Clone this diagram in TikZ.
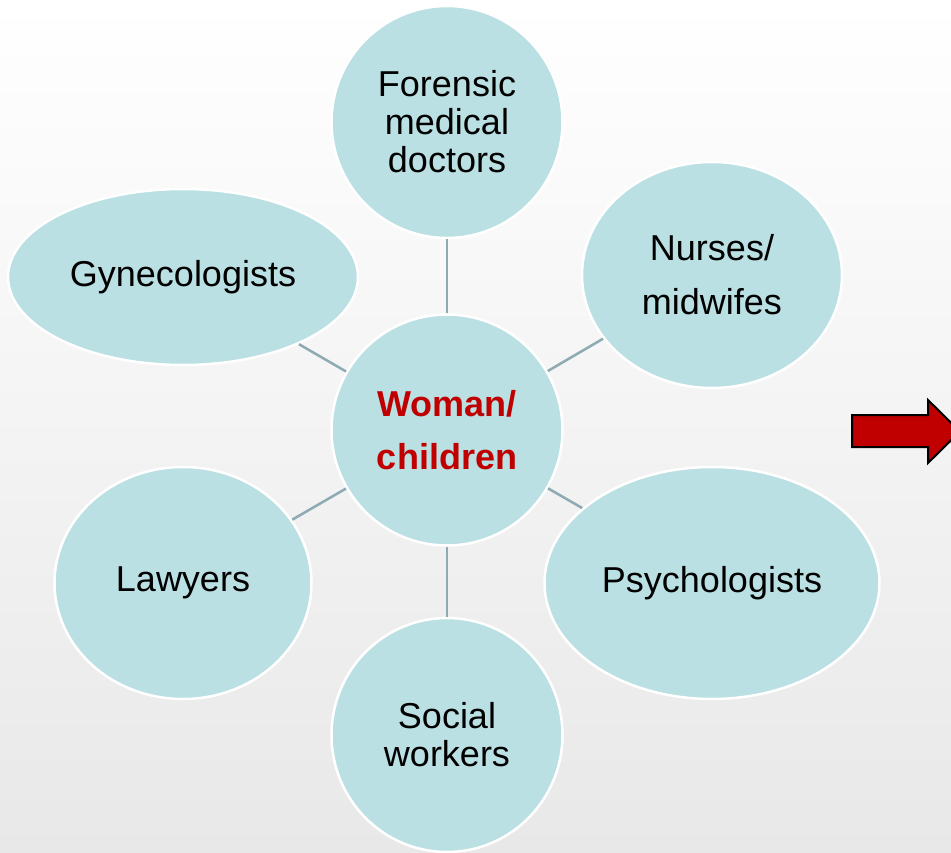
\documentclass[tikz,border=0pt]{standalone}
\usepackage{fontspec}
\setmainfont{Liberation Sans}
\usetikzlibrary{shapes.geometric}
\definecolor{bubblefill}{RGB}{186,224,227}
\definecolor{spokeline}{RGB}{142,170,178}
\definecolor{hubred}{RGB}{192,0,0}
\definecolor{bggray}{RGB}{232,232,232}
\begin{document}
\begin{tikzpicture}[x=1pt,y=-1pt,
    bubble/.style={ellipse, fill=bubblefill, draw=white, line width=2.5pt, inner sep=0pt,
      align=center, font=\fontsize{36}{38}\selectfont},
    spoke/.style={draw=spokeline, line width=2.5pt}]
  \useasboundingbox (0,0) rectangle (951,853);
  \shade [top color=white, bottom color=bggray] (0,0) rectangle (951,853);
  % hub and the six bubbles round it
  \node [bubble, circle, minimum size=231pt, text=hubred, font=\fontsize{36}{38}\selectfont\bfseries] (hub) at (447,430) {Woman/\\[15pt]children};
  \node [bubble, minimum width=231pt, minimum height=232pt] (forensic) at (447,122) {Forensic\\medical\\doctors};
  \node [bubble, minimum width=260pt, minimum height=226pt] (nurses) at (712,275) {Nurses/\\[16pt]midwifes};
  \node [bubble, minimum width=350pt, minimum height=176pt] (gyn) at (183,277) {Gynecologists};
  \node [bubble, minimum width=257pt, minimum height=232pt] (lawyers) at (183,583) {Lawyers};
  \node [bubble, minimum width=335pt, minimum height=232pt] (psych) at (712,583) {Psychologists};
  \node [bubble, minimum width=231pt, minimum height=234pt] (social) at (447,735) {Social\\workers};
  \foreach \n in {forensic,nurses,gyn,lawyers,psych,social}
    \draw [spoke] (hub) -- (\n);
  % block arrow at the right edge
  \draw [fill=hubred, line width=2pt] (852,415) -- (928,415) -- (928,400) -- (960,431.5)
    -- (928,463) -- (928,447) -- (852,447) -- cycle;
\end{tikzpicture}
\end{document}
